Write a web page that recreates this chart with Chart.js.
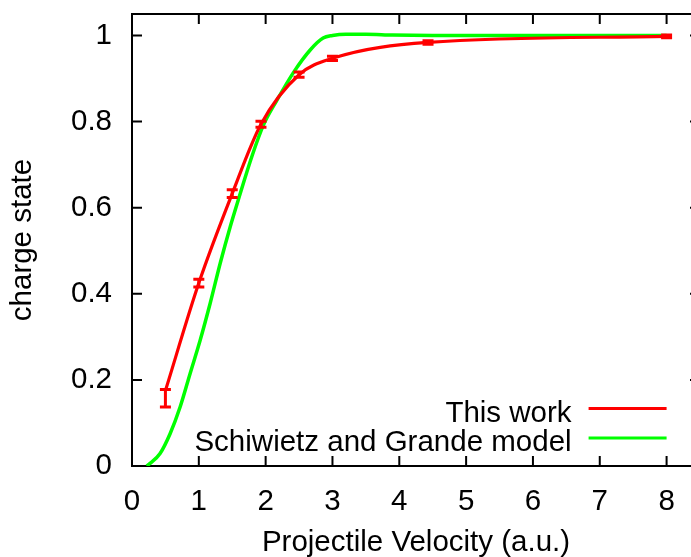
<!DOCTYPE html>
<html><head><meta charset="utf-8">
<script src="https://cdn.jsdelivr.net/npm/chart.js@4.4.0/dist/chart.umd.min.js"></script>
<style>html,body{margin:0;padding:0;background:#fff;overflow:hidden}#wrap{width:720px;height:557px}</style>
</head><body><div id="wrap"><canvas id="c" width="720" height="557"></canvas></div>
<script>
const xTitle = 'Projectile Velocity (a.u.)';
const yTitle = 'charge state';
const seriesNames = ['This work', 'Schiwietz and Grande model'];
const seriesColors = ['#ff0000', '#00ff00'];

const workX = [0.5, 1.0, 1.5, 1.93, 2.5, 3.0, 4.43, 8.0];
const workY = [0.175, 0.425, 0.633, 0.794, 0.909, 0.947, 0.984, 0.998];
const workLow = [0.137, 0.416, 0.624, 0.787, 0.903, 0.942, 0.980, 0.995];
const workHigh = [0.178, 0.434, 0.642, 0.801, 0.915, 0.952, 0.988, 1.001];

const modelX = [0.22, 0.27, 0.42, 0.57, 0.72, 0.87, 1.02, 1.17, 1.32, 1.47, 1.59, 1.8, 1.97, 2.17, 2.42, 2.67, 2.86, 3.0, 3.2, 3.5, 3.9, 4.5, 5, 6, 7, 8];
const modelY = [0.0, 0.006, 0.029, 0.075, 0.137, 0.215, 0.292, 0.378, 0.471, 0.556, 0.618, 0.722, 0.793, 0.850, 0.915, 0.967, 0.994, 1.0, 1.003, 1.003, 1.001, 1.0, 1.0, 1.0, 1.0, 1.0];

const xTicks = [0, 1, 2, 3, 4, 5, 6, 7, 8];
const xTickLabels = ['0', '1', '2', '3', '4', '5', '6', '7', '8'];
const yTicks = [0, 0.2, 0.4, 0.6, 0.8, 1];
const yTickLabels = ['0', '0.2', '0.4', '0.6', '0.8', '1'];
const xRange = [0, 8.5];
const yRange = [0, 1.05];

const FONT = 'Liberation Sans, Arial, Helvetica, sans-serif';
const FS = 29.5;
Chart.defaults.font.family = FONT;
Chart.defaults.font.size = FS;
Chart.defaults.color = '#000';

const framePlugin = {
  id: 'frame',
  beforeDatasetsDraw(chart) {
    const {ctx, chartArea: a, scales: {x, y}} = chart;
    ctx.save();
    ctx.strokeStyle = '#000';
    ctx.lineWidth = 2;
    ctx.strokeRect(a.left, a.top, a.right - a.left, a.bottom - a.top);
    const L = 10;
    ctx.beginPath();
    xTicks.forEach(v => {
      const p = x.getPixelForValue(v);
      ctx.moveTo(p, a.bottom); ctx.lineTo(p, a.bottom - L);
      ctx.moveTo(p, a.top); ctx.lineTo(p, a.top + L);
    });
    yTicks.forEach(v => {
      const p = y.getPixelForValue(v);
      ctx.moveTo(a.left, p); ctx.lineTo(a.left + L, p);
      ctx.moveTo(a.right, p); ctx.lineTo(a.right - L, p);
    });
    ctx.stroke();
    ctx.restore();
  }
};

const errorBarPlugin = {
  id: 'errbars',
  afterDatasetsDraw(chart) {
    const {ctx, scales: {x, y}} = chart;
    ctx.save();
    ctx.strokeStyle = seriesColors[0];
    ctx.lineWidth = 3;
    const cap = 5.5;
    ctx.beginPath();
    workX.forEach((xv, i) => {
      const px = x.getPixelForValue(xv);
      const lo = y.getPixelForValue(workLow[i]);
      const hi = y.getPixelForValue(workHigh[i]);
      ctx.moveTo(px, lo); ctx.lineTo(px, hi);
      ctx.moveTo(px - cap, lo); ctx.lineTo(px + cap, lo);
      ctx.moveTo(px - cap, hi); ctx.lineTo(px + cap, hi);
    });
    ctx.stroke();
    ctx.restore();
  }
};

const legendPlugin = {
  id: 'insideLegend',
  afterDatasetsDraw(chart) {
    const {ctx, scales: {x}, chartArea: a} = chart;
    ctx.save();
    ctx.font = FS + 'px ' + FONT;
    ctx.textAlign = 'right';
    ctx.textBaseline = 'alphabetic';
    const lineR = x.getPixelForValue(8);
    const lineL = lineR - 78;
    const textR = lineL - 17;
    chart.data.datasets.forEach((ds, i) => {
      const cy = a.bottom - 57.5 + i * 29.5;
      ctx.fillStyle = '#000';
      ctx.fillText(ds.label, textR, cy + 13);
      ctx.strokeStyle = ds.borderColor;
      ctx.lineWidth = 3;
      ctx.beginPath();
      ctx.moveTo(lineL, cy); ctx.lineTo(lineR, cy);
      ctx.stroke();
    });
    ctx.restore();
  }
};

new Chart(document.getElementById('c'), {
  type: 'line',
  data: {
    datasets: [
      {
        label: seriesNames[0],
        data: workX.map((v, i) => ({x: v, y: workY[i]})),
        borderColor: seriesColors[0],
        borderWidth: 3.2,
        pointRadius: 0,
        cubicInterpolationMode: 'monotone',
        fill: false
      },
      {
        label: seriesNames[1],
        data: modelX.map((v, i) => ({x: v, y: modelY[i]})),
        borderColor: seriesColors[1],
        borderWidth: 3.5,
        pointRadius: 0,
        cubicInterpolationMode: 'monotone',
        fill: false
      }
    ]
  },
  options: {
    responsive: false,
    animation: false,
    layout: {padding: {top: 14, right: 20, left: 0, bottom: 0}},
    plugins: {legend: {display: false}, tooltip: {enabled: false}},
    scales: {
      x: {
        type: 'linear',
        min: xRange[0], max: xRange[1],
        afterBuildTicks: s => { s.ticks = xTicks.map(v => ({value: v})); },
        afterFit: s => { s.height = 91; s.paddingLeft = 0; s.paddingRight = 0; },
        grid: {display: false, drawTicks: false},
        border: {display: false},
        ticks: {
          padding: 18,
          maxRotation: 0,
          autoSkip: false,
          callback: (v) => xTickLabels[xTicks.indexOf(v)]
        },
        title: {display: true, text: xTitle, padding: {top: 0, bottom: -4}}
      },
      y: {
        type: 'linear',
        min: yRange[0], max: yRange[1],
        afterBuildTicks: s => { s.ticks = yTicks.map(v => ({value: v})); },
        afterFit: s => { s.width = 132; s.paddingTop = 0; s.paddingBottom = 0; },
        grid: {display: false, drawTicks: false},
        border: {display: false},
        ticks: {
          padding: 20,
          autoSkip: false,
          callback: (v) => yTickLabels[yTicks.indexOf(v)]
        },
        title: {display: true, text: yTitle, padding: {top: 5, bottom: 0}}
      }
    }
  },
  plugins: [framePlugin, errorBarPlugin, legendPlugin]
});
</script>
</body></html>
